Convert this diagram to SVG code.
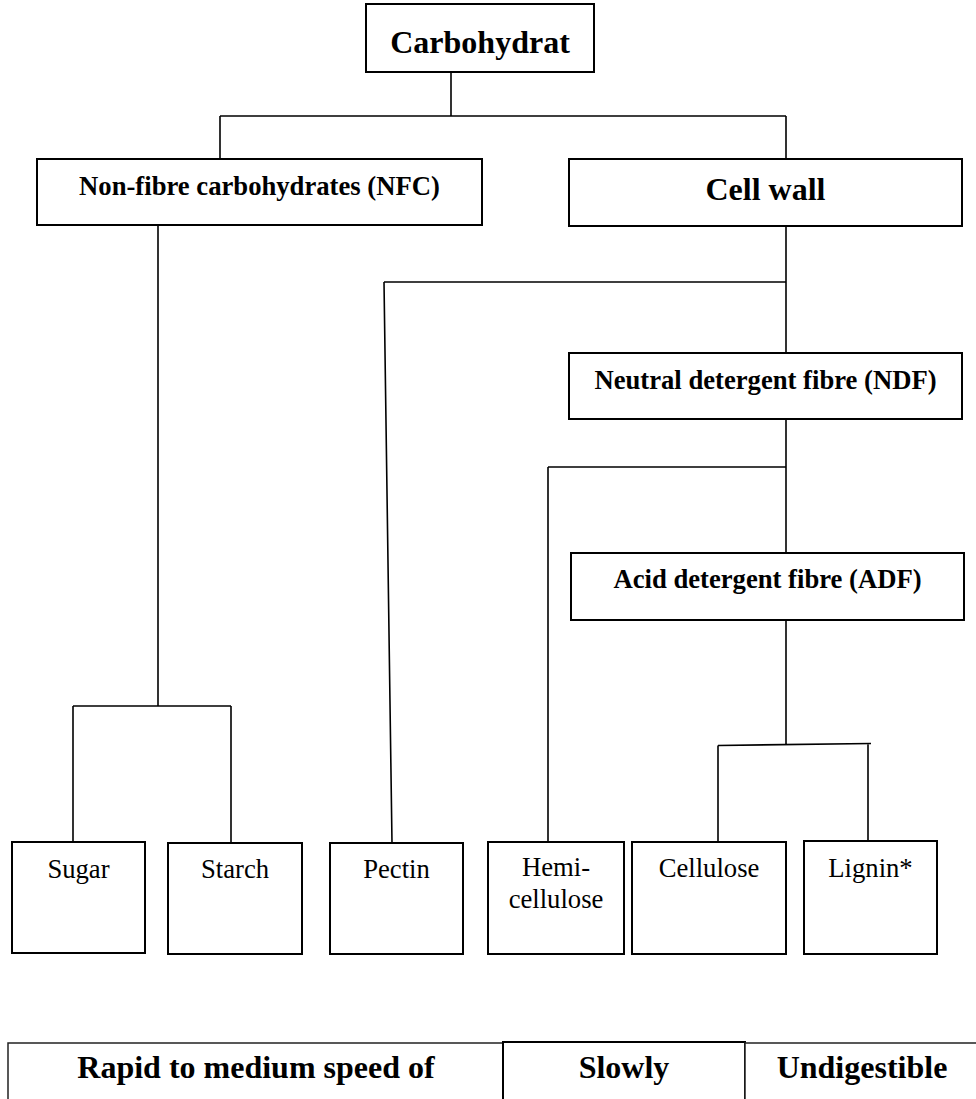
<svg xmlns="http://www.w3.org/2000/svg" width="976" height="1099" viewBox="0 0 976 1099">
<style>
.box{fill:#fff;stroke:#000;stroke-width:2}
.cell{fill:#fff;stroke:#222;stroke-width:1.5}
.ln{fill:none;stroke:#000;stroke-width:1.6}
.t{font-family:"Liberation Serif","Times New Roman",serif;fill:#000;text-anchor:middle}
.b32{font-size:32px;font-weight:bold}
.b27{font-size:26.67px;font-weight:bold}
.r27{font-size:26.67px}
</style>
<rect width="976" height="1099" fill="#fff"/>
<g id="connectors">
<path class="ln" d="M451 72 V116 M220 116 H786 M220 116 V159 M786 116 V159"/>
<path class="ln" d="M786 226 V353 M384 282 H786 M384 282 L392 843"/>
<path class="ln" d="M786 419 V553 M548 467 H786 M548 467 V842"/>
<path class="ln" d="M786 620 V744.5 M718 745.5 L871 743.5 M718 745.5 V842 M868 744 V841"/>
<path class="ln" d="M158 226 V706 M73 706 H231 M73 706 V842 M231 706 V843"/>
</g>
<g id="carbohydrat"><rect class="box" x="366" y="4" width="228" height="68"/><text class="t b32" x="480" y="53">Carbohydrat</text></g>
<g id="nfc"><rect class="box" x="37" y="159" width="445" height="66"/><text class="t b27" x="259.5" y="195">Non-fibre carbohydrates (NFC)</text></g>
<g id="cellwall"><rect class="box" x="569" y="159" width="393" height="67"/><text class="t b32" x="765.5" y="200">Cell wall</text></g>
<g id="ndf"><rect class="box" x="569" y="353" width="393" height="66"/><text class="t b27" x="765.5" y="389">Neutral detergent fibre (NDF)</text></g>
<g id="adf"><rect class="box" x="571" y="553" width="393" height="67"/><text class="t b27" x="767.5" y="588">Acid detergent fibre (ADF)</text></g>
<g id="sugar"><rect class="box" x="12" y="842" width="133" height="111"/><text class="t r27" x="78.5" y="878">Sugar</text></g>
<g id="starch"><rect class="box" x="168" y="843" width="134" height="111"/><text class="t r27" x="235" y="878">Starch</text></g>
<g id="pectin"><rect class="box" x="330" y="843" width="133" height="111"/><text class="t r27" x="396.5" y="878">Pectin</text></g>
<g id="hemicellulose"><rect class="box" x="488" y="842" width="136" height="112"/><text class="t r27" x="556" y="876">Hemi-</text><text class="t r27" x="556" y="908">cellulose</text></g>
<g id="cellulose"><rect class="box" x="632" y="842" width="154" height="112"/><text class="t r27" x="709" y="877">Cellulose</text></g>
<g id="lignin"><rect class="box" x="804" y="841" width="133" height="113"/><text class="t r27" x="870.5" y="877">Lignin*</text></g>
<g id="legend-rapid"><rect class="cell" x="8" y="1043" width="495" height="80"/><text class="t b32" x="256" y="1078">Rapid to medium speed of</text></g>
<g id="legend-slowly"><rect class="box" x="503" y="1042" width="242" height="80"/><text class="t b32" x="624" y="1078">Slowly</text></g>
<g id="legend-undigestible"><rect class="cell" x="745" y="1043" width="240" height="80"/><text class="t b32" x="862" y="1078">Undigestible</text></g>
</svg>
